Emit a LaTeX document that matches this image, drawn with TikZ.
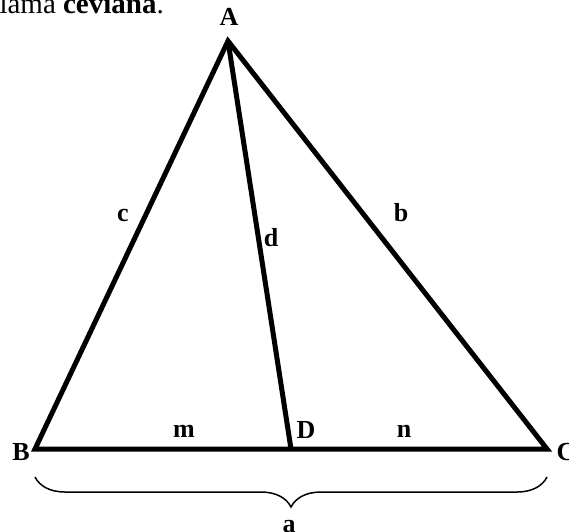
\documentclass[tikz,border=0pt]{standalone}
\usepackage{fontspec}
\setmainfont{Liberation Serif}
\usetikzlibrary{positioning,decorations.pathreplacing}

\begin{document}
\begin{tikzpicture}[x=1pt, y=-1pt, every node/.style={font=\fontsize{29}{34}\selectfont}]
\tikzstyle{side}=[line width=5pt, line join=miter]
\tikzstyle{lbl}=[font=\fontsize{26}{30}\selectfont\bfseries, inner sep=0pt]
\useasboundingbox (0,0) rectangle (569,531);
% vertices
\coordinate (A) at (228,41);
\coordinate (B) at (35,449);
\coordinate (C) at (547,449);
\coordinate (D) at (291,449);
% triangle and cevian
\draw[side] (B) -- (A) -- (C) -- cycle;
\draw[side] (A) -- (D);
% brace under the base
\coordinate (bl) at (35,477);
\coordinate (br) at (547,477);
\draw[line width=1.5pt, decorate, decoration={brace, mirror, amplitude=30pt}] (bl) -- (br);
% text
\node[anchor=base east, inner sep=0pt] (txt) at (164,13) {se llama \textbf{ceviana}.};
\node[lbl] (lA) at (229,17) {A};
\node[lbl] (lB) at (21,452) {B};
\node[lbl] (lC) at (566,452) {C};
\node[lbl] (lD) at (306,430) {D};
\node[lbl] (lc) at (123,215) {c};
\node[lbl] (ld) at (271,238) {d};
\node[lbl] (lb) at (401,213) {b};
\node[lbl] (lm) at (184,431) {m};
\node[lbl] (ln) at (404,431) {n};
\node[lbl] (la) at (289,527) {a};
\end{tikzpicture}
\end{document}
